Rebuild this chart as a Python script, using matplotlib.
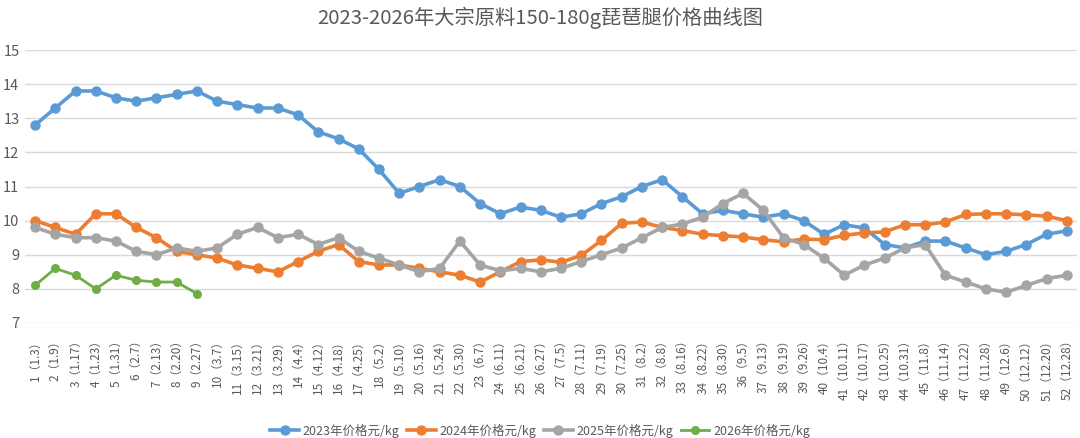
import matplotlib
matplotlib.use("Agg")
import matplotlib.pyplot as plt

plt.rcParams['font.family'] = ['Noto Sans CJK SC', 'DejaVu Sans']

weeks = list(range(1, 53))
dates = ["1.3", "1.9", "1.17", "1.23", "1.31", "2.7", "2.13", "2.20", "2.27", "3.7",
         "3.15", "3.21", "3.29", "4.4", "4.12", "4.18", "4.25", "5.2", "5.10", "5.16",
         "5.24", "5.30", "6.7", "6.11", "6.21", "6.27", "7.5", "7.11", "7.19", "7.25",
         "8.2", "8.8", "8.16", "8.22", "8.30", "9.5", "9.13", "9.19", "9.26", "10.4",
         "10.11", "10.17", "10.25", "10.31", "11.8", "11.14", "11.22", "11.28", "12.6", "12.12",
         "12.20", "12.28"]
tick_labels = [f"{w}（{d}）" for w, d in zip(weeks, dates)]

y2023 = [12.8, 13.3, 13.8, 13.8, 13.6, 13.5, 13.6, 13.7, 13.8, 13.5,
         13.4, 13.3, 13.3, 13.1, 12.6, 12.4, 12.1, 11.5, 10.8, 11.0,
         11.2, 11.0, 10.5, 10.2, 10.4, 10.3, 10.1, 10.2, 10.5, 10.7,
         11.0, 11.2, 10.7, 10.2, 10.3, 10.2, 10.1, 10.2, 10.0, 9.6,
         9.88, 9.78, 9.3, 9.2, 9.4, 9.4, 9.2, 9.0, 9.1, 9.3,
         9.6, 9.7]
y2024 = [10.0, 9.8, 9.6, 10.2, 10.2, 9.8, 9.5, 9.1, 9.0, 8.9,
         8.7, 8.6, 8.5, 8.8, 9.1, 9.3, 8.8, 8.7, 8.7, 8.6,
         8.5, 8.4, 8.2, 8.5, 8.8, 8.85, 8.78, 8.98, 9.42, 9.92,
         9.96, 9.8, 9.71, 9.6, 9.56, 9.52, 9.44, 9.38, 9.46, 9.44,
         9.57, 9.64, 9.67, 9.88, 9.88, 9.96, 10.18, 10.2, 10.2, 10.17,
         10.13, 10.0]
y2025 = [9.8, 9.6, 9.5, 9.5, 9.4, 9.1, 9.0, 9.2, 9.1, 9.2,
         9.6, 9.8, 9.5, 9.6, 9.3, 9.5, 9.1, 8.9, 8.7, 8.5,
         8.6, 9.4, 8.7, 8.53, 8.6, 8.5, 8.6, 8.8, 9.0, 9.2,
         9.5, 9.8, 9.9, 10.1, 10.5, 10.8, 10.3, 9.5, 9.3, 8.9,
         8.4, 8.7, 8.9, 9.2, 9.3, 8.4, 8.2, 8.0, 7.9, 8.1,
         8.3, 8.4]
y2026 = [8.1, 8.6, 8.4, 8.0, 8.4, 8.25, 8.2, 8.2, 7.86]

fig = plt.figure(figsize=(10.8, 4.38), dpi=100)
ax = fig.add_axes([0.0231, 0.2626, 0.9740, 0.6232])

series = [
    (y2023, "#5B9BD5", "2023年价格元/kg", 2.6, 6.5),
    (y2024, "#ED7D31", "2024年价格元/kg", 2.6, 6.5),
    (y2025, "#A5A5A5", "2025年价格元/kg", 2.6, 6.5),
    (y2026, "#70AD47", "2026年价格元/kg", 2.0, 5.5),
]
for ys, c, lab, lw, ms in series:
    ax.plot(weeks[:len(ys)], ys, color=c, lw=lw, marker='o', ms=ms,
            markerfacecolor=c, markeredgecolor=c, label=lab, solid_joinstyle='round')

ax.set_xlim(0.5, 52.5)
ax.set_ylim(7, 15)
ax.set_yticks(range(7, 16))
ax.grid(axis='y', color='#D9D9D9', lw=1)
ax.set_axisbelow(True)
for s in ax.spines.values():
    s.set_visible(False)
ax.tick_params(axis='both', length=0, colors='#595959')
ax.tick_params(axis='y', labelsize=10.5, pad=4)
ax.set_xticks(weeks)
ax.set_xticklabels(tick_labels, rotation=90, fontsize=8.5, va='top', ha='center')
ax.tick_params(axis='x', pad=8)

fig.suptitle("2023-2026年大宗原料150-180g琵琶腿价格曲线图", y=0.985, fontsize=14.6, color='#595959')

fig.legend(loc='lower center', bbox_to_anchor=(0.5, -0.025), ncol=4, frameon=False,
           fontsize=9, labelcolor='#595959', handlelength=2.3, columnspacing=0.6,
           handletextpad=0.3)

fig.savefig("out.png", dpi=100)
